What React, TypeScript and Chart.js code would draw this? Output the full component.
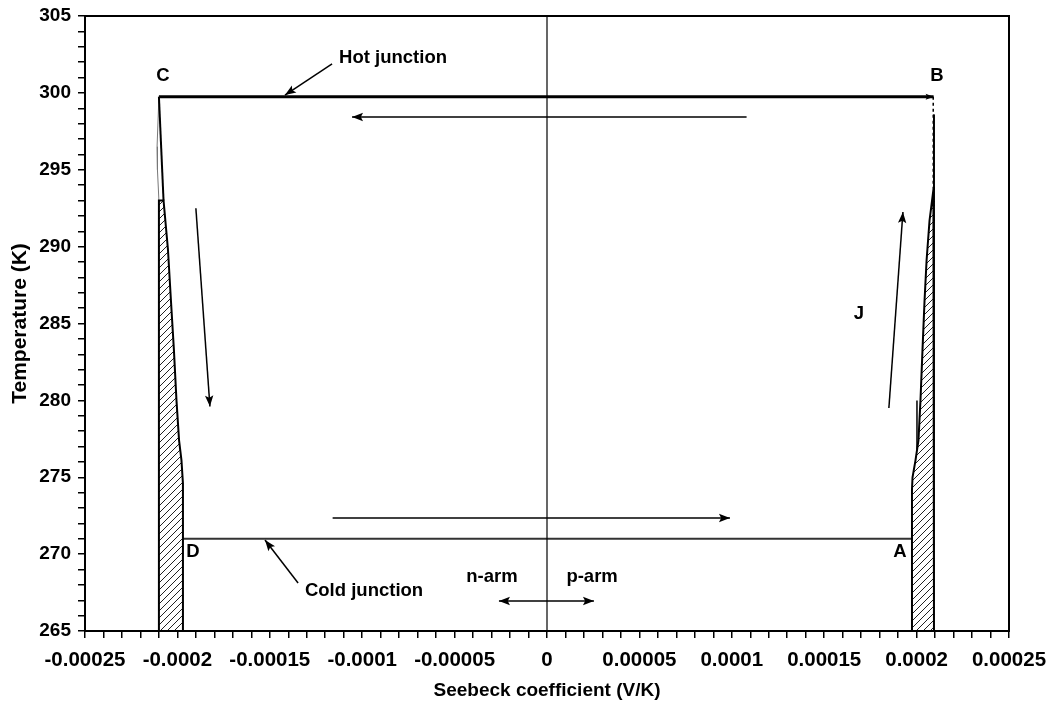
import React, { useEffect, useRef } from 'react';
import { Chart, registerables } from 'chart.js';

Chart.register(...registerables);

const FONT = '"Liberation Sans", Arial, Helvetica, sans-serif';

// Axis ranges
const xRange = [-0.00025, 0.00025];
const yRange = [265, 305];

// Tick values (minor every 0.00001 V/K and 1 K, labelled every 0.00005 / 5 K)
const xTickValues: number[] = [];
for (let i = -25; i <= 25; i++) xTickValues.push(i / 100000);
const yTickValues: number[] = [];
for (let t = 265; t <= 305; t++) yTickValues.push(t);

// Hot and cold junction lines
const hotJunctionS = [-0.00021, 0.0002092];
const hotJunctionT = [299.75, 299.75];
const coldJunctionS = [-0.000197, 0.0001975];
const coldJunctionT = [271, 271];
const zeroLineS = [0, 0];
const zeroLineT = [265, 305];

// n-arm (hatched region on the left)
const nArmS = [-0.00021, -0.00021, -0.0002075, -0.0002051, -0.0002035, -0.0002019, -0.0002005, -0.0001991, -0.0001978, -0.000197, -0.000197, -0.00021];
const nArmT = [265, 293, 293, 289.8, 286.5, 283.3, 280, 277.4, 276.1, 274.6, 265, 265];
const nArmUpperS = [-0.00021, -0.0002075];
const nArmUpperT = [299.75, 293];
const nArmBulgeS = [-0.00021, -0.000211, -0.0002108, -0.00021];
const nArmBulgeT = [299.75, 296.5, 295, 293];

// p-arm (hatched region on the right)
const pArmS = [0.0001975, 0.0001975, 0.0001978, 0.0001994, 0.000201, 0.0002021, 0.0002032, 0.0002043, 0.0002054, 0.000207, 0.0002091, 0.0002094, 0.0002094, 0.0001975];
const pArmT = [265, 274.2, 275.0, 276.1, 277.4, 280.0, 283.3, 286.5, 289.1, 291.7, 293.7, 293.9, 265, 265];
const pArmUpperS = [0.0002094, 0.0002094];
const pArmUpperT = [293.7, 298.6];
const pArmDashS = [0.000209, 0.000209];
const pArmDashT = [299.75, 293.5];
const pArmTickS = [0.0002002, 0.0002002];
const pArmTickT = [280.0, 276.8];

// Cycle direction arrows
const flowTopS = [0.000108, -0.0001055];
const flowTopT = [298.43, 298.43];
const flowBottomS = [-0.000116, 0.000099];
const flowBottomT = [272.35, 272.35];
const flowLeftS = [-0.00019, -0.0001824];
const flowLeftT = [292.5, 279.6];
const flowRightS = [0.000185, 0.0001926];
const flowRightT = [279.5, 292.25];
const armArrowS = [-0.000026, 0.0000254];
const armArrowT = [266.95, 266.95];
const hotLeaderS = [-0.0001163, -0.0001418];
const hotLeaderT = [301.88, 299.86];
const coldLeaderS = [-0.0001347, -0.0001526];
const coldLeaderT = [268.12, 270.92];

// Text annotations
const labelTexts = ['Hot junction', 'Cold junction', 'C', 'B', 'D', 'A', 'J', 'n-arm', 'p-arm'];
const labelS = [-0.0000833, -0.000099, -0.0002078, 0.000211, -0.0001916, 0.000191, 0.0001688, -0.0000298, 0.0000244];
const labelT = [302.27, 267.6, 301.1, 301.1, 270.14, 270.14, 285.62, 268.5, 268.5];

const pts = (xs: number[], ys: number[]) => xs.map((x, i) => ({ x, y: ys[i] }));

function makeHatch(): CanvasPattern | string {
  const s = 7;
  const c = document.createElement('canvas');
  c.width = s;
  c.height = s;
  const g = c.getContext('2d');
  if (!g) return 'rgba(0,0,0,0.2)';
  g.fillStyle = '#fff';
  g.fillRect(0, 0, s, s);
  g.strokeStyle = '#222';
  g.lineWidth = 1;
  g.beginPath();
  g.moveTo(-1, s + 1);
  g.lineTo(s + 1, -1);
  g.moveTo(-1, 1);
  g.lineTo(1, -1);
  g.moveTo(s - 1, s + 1);
  g.lineTo(s + 1, s - 1);
  g.stroke();
  const p = g.createPattern(c, 'repeat');
  return p || 'rgba(0,0,0,0.2)';
}

function drawHead(ctx: CanvasRenderingContext2D, from: any, to: any, size: number) {
  const ang = Math.atan2(to.y - from.y, to.x - from.x);
  const w = size * 0.38;
  ctx.save();
  ctx.translate(to.x, to.y);
  ctx.rotate(ang);
  ctx.beginPath();
  ctx.moveTo(0, 0);
  ctx.lineTo(-size, -w);
  ctx.lineTo(-size * 0.8, 0);
  ctx.lineTo(-size, w);
  ctx.closePath();
  ctx.fillStyle = '#000';
  ctx.fill();
  ctx.restore();
}

const arrowPlugin = {
  id: 'arrowHeads',
  afterDatasetsDraw(chart: any) {
    const ctx = chart.ctx;
    chart.data.datasets.forEach((ds: any, i: number) => {
      if (!ds.arrowEnd && !ds.arrowStart) return;
      const pts = chart.getDatasetMeta(i).data;
      const n = pts.length;
      const size = ds.arrowSize || 11;
      if (ds.arrowEnd) drawHead(ctx, pts[n - 2], pts[n - 1], size);
      if (ds.arrowStart) drawHead(ctx, pts[1], pts[0], size);
    });
  },
};

const labelPlugin = {
  id: 'textLabels',
  afterDatasetsDraw(chart: any) {
    const ctx = chart.ctx;
    const xs = chart.scales.x;
    const ys = chart.scales.y;
    ctx.save();
    ctx.font = `bold 18.5px ${FONT}`;
    ctx.fillStyle = '#000';
    ctx.textAlign = 'center';
    ctx.textBaseline = 'middle';
    labelTexts.forEach((t, i) => {
      ctx.fillText(t, xs.getPixelForValue(labelS[i]), ys.getPixelForValue(labelT[i]));
    });
    ctx.restore();
  },
};

export default function App() {
  const ref = useRef<HTMLCanvasElement>(null);

  useEffect(() => {
    const canvas = ref.current;
    if (!canvas) return;
    const hatch = makeHatch();

    const line = (xs: number[], ys: number[], extra: any = {}) => ({
      data: pts(xs, ys),
      showLine: true,
      pointRadius: 0,
      pointHoverRadius: 0,
      borderColor: '#000',
      backgroundColor: '#000',
      borderWidth: 1.5,
      fill: false,
      tension: 0,
      ...extra,
    });

    const chart = new Chart(canvas, {
      type: 'scatter',
      data: {
        datasets: [
          line(nArmS, nArmT, { fill: 'shape', backgroundColor: hatch, borderWidth: 2 }),
          line(pArmS, pArmT, { fill: 'shape', backgroundColor: hatch, borderWidth: 2 }),
          line(nArmUpperS, nArmUpperT, { borderWidth: 2 }),
          line(nArmBulgeS, nArmBulgeT, { borderWidth: 1, borderColor: '#777' }),
          line(pArmUpperS, pArmUpperT, { borderWidth: 2 }),
          line(pArmDashS, pArmDashT, { borderWidth: 1.5, borderDash: [3, 3] }),
          line(pArmTickS, pArmTickT, { borderWidth: 1.5 }),
          line(zeroLineS, zeroLineT, { borderWidth: 1.2 }),
          line(hotJunctionS, hotJunctionT, { borderWidth: 3, arrowEnd: true, arrowSize: 8 }),
          line(coldJunctionS, coldJunctionT, { borderWidth: 2, borderColor: '#333' }),
          line(flowTopS, flowTopT, { arrowEnd: true }),
          line(flowBottomS, flowBottomT, { arrowEnd: true }),
          line(flowLeftS, flowLeftT, { arrowEnd: true }),
          line(flowRightS, flowRightT, { arrowEnd: true }),
          line(armArrowS, armArrowT, { arrowEnd: true, arrowStart: true }),
          line(hotLeaderS, hotLeaderT, { arrowEnd: true }),
          line(coldLeaderS, coldLeaderT, { arrowEnd: true }),
        ] as any,
      },
      options: {
        responsive: false,
        animation: false,
        events: [],
        layout: { padding: { left: 0, right: 42, top: 16, bottom: 0 } },
        plugins: {
          legend: { display: false },
          tooltip: { enabled: false },
        },
        scales: {
          x: {
            type: 'linear',
            position: 'bottom',
            min: xRange[0],
            max: xRange[1],
            afterBuildTicks: (s: any) => {
              s.ticks = xTickValues.map((v) => ({ value: v }));
            },
            afterFit: (s: any) => {
              s.height = 74;
              s.paddingLeft = 0;
              s.paddingRight = 0;
            },
            ticks: {
              autoSkip: false,
              maxRotation: 0,
              minRotation: 0,
              padding: 10,
              color: '#000',
              font: { family: FONT, size: 20.5, weight: 'bold' },
              callback: (v: any) => {
                const k = Math.round(Number(v) * 100000);
                if (k % 5 !== 0) return '';
                return k === 0 ? '0' : String(k / 100000);
              },
            },
            grid: { drawOnChartArea: false, drawTicks: true, tickLength: 7, color: '#000', lineWidth: 1.5 },
            border: { display: true, color: '#000', width: 2 },
            title: {
              display: true,
              text: 'Seebeck coefficient (V/K)',
              color: '#000',
              font: { family: FONT, size: 19, weight: 'bold' },
              padding: { top: 0, bottom: 3 },
            },
          },
          y: {
            type: 'linear',
            position: 'left',
            min: yRange[0],
            max: yRange[1],
            afterBuildTicks: (s: any) => {
              s.ticks = yTickValues.map((v) => ({ value: v }));
            },
            afterFit: (s: any) => {
              s.width = 85;
              s.paddingTop = 0;
              s.paddingBottom = 0;
            },
            ticks: {
              autoSkip: false,
              padding: 7,
              color: '#000',
              font: { family: FONT, size: 19, weight: 'bold' },
              callback: (v: any) => {
                const n = Math.round(Number(v));
                return n % 5 === 0 ? String(n) : '';
              },
            },
            grid: { drawOnChartArea: false, drawTicks: true, tickLength: 7, color: '#000', lineWidth: 1.5 },
            border: { display: true, color: '#000', width: 2 },
            title: {
              display: true,
              text: 'Temperature (K)',
              color: '#000',
              font: { family: FONT, size: 21, weight: 'bold' },
              padding: { top: 7.4, bottom: 0 },
            },
          },
          x2: {
            type: 'linear',
            position: 'top',
            display: true,
            min: 0,
            max: 1,
            ticks: { display: false },
            grid: { display: true, drawOnChartArea: false, drawTicks: false },
            border: { display: true, color: '#000', width: 2 },
          },
          y2: {
            type: 'linear',
            position: 'right',
            display: true,
            min: 0,
            max: 1,
            ticks: { display: false },
            grid: { display: true, drawOnChartArea: false, drawTicks: false },
            border: { display: true, color: '#000', width: 2 },
          },
        },
      } as any,
      plugins: [arrowPlugin, labelPlugin],
    });

    return () => chart.destroy();
  }, []);

  return (
    <div style={{ position: 'fixed', left: 0, top: 0, width: 1051, height: 705, background: '#fff' }}>
      <canvas ref={ref} width={1051} height={705} style={{ display: 'block', width: 1051, height: 705 }} />
    </div>
  );
}
